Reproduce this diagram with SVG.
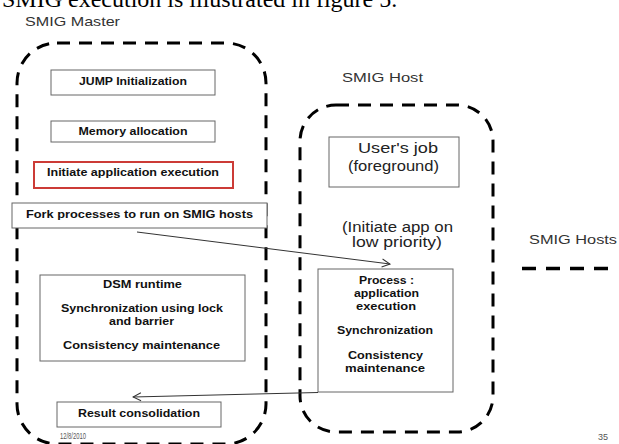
<svg xmlns="http://www.w3.org/2000/svg" width="619" height="444" viewBox="0 0 619 444">
  <style>
    .zone { fill: none; stroke: #000; stroke-width: 3; stroke-dasharray: 13 9; }
    .box { fill: #fff; stroke: #666; stroke-width: 1; }
    .hot { fill: #fff; stroke: #cc3b36; stroke-width: 2; }
    .t { font-family: "Liberation Sans", Arial, sans-serif; fill: #111; text-anchor: middle; }
    .b { font-weight: bold; font-size: 11px; }
    .r { font-size: 14px; fill: #222; }
    .lbl { font-family: "Liberation Sans", Arial, sans-serif; font-size: 13.5px; fill: #333; }
    .small { font-family: "Liberation Sans", Arial, sans-serif; font-size: 9px; fill: #555; }
    .wire { fill: none; stroke: #333; stroke-width: 1; }
  </style>
  <defs>
    <marker id="open" markerWidth="10" markerHeight="10" refX="9" refY="5" orient="auto" markerUnits="userSpaceOnUse">
      <path d="M1,1 L9,5 L1,9" fill="none" stroke="#333" stroke-width="1"/>
    </marker>
  </defs>

  <rect width="619" height="444" fill="#fff"/>

  <!-- caption line above the figure, clipped by the top edge -->
  <text x="2" y="7" font-family="'Liberation Serif', 'Times New Roman', serif" font-size="24" fill="#000">SMIG execution is illustrated in figure 5.</text>

  <!-- master node -->
  <g id="master">
    <text class="lbl" x="25" y="25.5" textLength="95" lengthAdjust="spacingAndGlyphs">SMIG Master</text>
    <rect class="zone" x="17" y="43" width="249" height="401" rx="40"/>
  </g>

  <g id="jump-init">
    <rect class="box" x="51" y="70" width="164" height="25"/>
    <text class="t b" x="133" y="84.5" textLength="108" lengthAdjust="spacingAndGlyphs">JUMP Initialization</text>
  </g>

  <g id="memory-alloc">
    <rect class="box" x="51" y="121" width="164" height="21"/>
    <text class="t b" x="133" y="135" textLength="109" lengthAdjust="spacingAndGlyphs">Memory allocation</text>
  </g>

  <g id="initiate-exec">
    <rect class="hot" x="34" y="162" width="199" height="26"/>
    <text class="t b" x="133" y="176" textLength="172" lengthAdjust="spacingAndGlyphs">Initiate application execution</text>
  </g>

  <g id="fork">
    <rect class="box" x="12" y="203" width="255" height="25"/>
    <text class="t b" x="139.5" y="217.5" textLength="227" lengthAdjust="spacingAndGlyphs">Fork processes to run on SMIG hosts</text>
  </g>

  <g id="dsm">
    <rect class="box" x="40" y="275" width="205" height="86"/>
    <text class="t b" x="142.5" y="288" textLength="79" lengthAdjust="spacingAndGlyphs">DSM runtime</text>
    <text class="t b" x="142" y="311.5" textLength="162" lengthAdjust="spacingAndGlyphs">Synchronization using lock</text>
    <text class="t b" x="141.5" y="325" textLength="65" lengthAdjust="spacingAndGlyphs">and barrier</text>
    <text class="t b" x="141.5" y="349" textLength="157" lengthAdjust="spacingAndGlyphs">Consistency maintenance</text>
  </g>

  <g id="result">
    <rect class="box" x="57" y="402" width="164" height="25"/>
    <text class="t b" x="139" y="416.5" textLength="122" lengthAdjust="spacingAndGlyphs">Result consolidation</text>
  </g>

  <!-- host node -->
  <g id="host">
    <text class="lbl" x="342" y="82" font-size="14.5" textLength="81" lengthAdjust="spacingAndGlyphs">SMIG Host</text>
    <rect class="zone" x="300" y="105" width="193" height="327" rx="36"/>
    <text class="t r" x="397.5" y="231.5" textLength="111" lengthAdjust="spacingAndGlyphs">(Initiate app on</text>
    <text class="t r" x="397" y="246.5" textLength="90" lengthAdjust="spacingAndGlyphs">low priority)</text>
  </g>

  <g id="users-job">
    <rect class="box" x="329" y="137" width="130" height="50"/>
    <text class="t r" x="398" y="153" textLength="80" lengthAdjust="spacingAndGlyphs">User's job</text>
    <text class="t r" x="393.5" y="170.5" textLength="91" lengthAdjust="spacingAndGlyphs">(foreground)</text>
  </g>

  <g id="process">
    <rect class="box" x="318" y="269" width="135" height="123"/>
    <text class="t b" x="386.5" y="283.5" textLength="55" lengthAdjust="spacingAndGlyphs">Process :</text>
    <text class="t b" x="386.5" y="296.5" textLength="65" lengthAdjust="spacingAndGlyphs">application</text>
    <text class="t b" x="386" y="309.5" textLength="60" lengthAdjust="spacingAndGlyphs">execution</text>
    <text class="t b" x="385" y="334" textLength="96" lengthAdjust="spacingAndGlyphs">Synchronization</text>
    <text class="t b" x="385.5" y="359" textLength="75" lengthAdjust="spacingAndGlyphs">Consistency</text>
    <text class="t b" x="385" y="372" textLength="80" lengthAdjust="spacingAndGlyphs">maintenance</text>
  </g>

  <!-- legend -->
  <g id="legend">
    <text class="lbl" x="529" y="244" font-size="14.5" textLength="88" lengthAdjust="spacingAndGlyphs">SMIG Hosts</text>
    <line x1="522" y1="268.5" x2="610" y2="268.5" stroke="#000" stroke-width="3.5" stroke-dasharray="14 10"/>
  </g>

  <!-- connectors -->
  <g id="connectors">
    <line class="wire" x1="137" y1="232" x2="390" y2="264" marker-end="url(#open)"/>
    <line class="wire" x1="318" y1="392.5" x2="133" y2="397" marker-end="url(#open)"/>
  </g>

  <!-- footer -->
  <text class="small" x="60" y="438.5" textLength="26" lengthAdjust="spacingAndGlyphs">12/8/2010</text>
  <text class="small" x="598" y="439.5">35</text>
</svg>
